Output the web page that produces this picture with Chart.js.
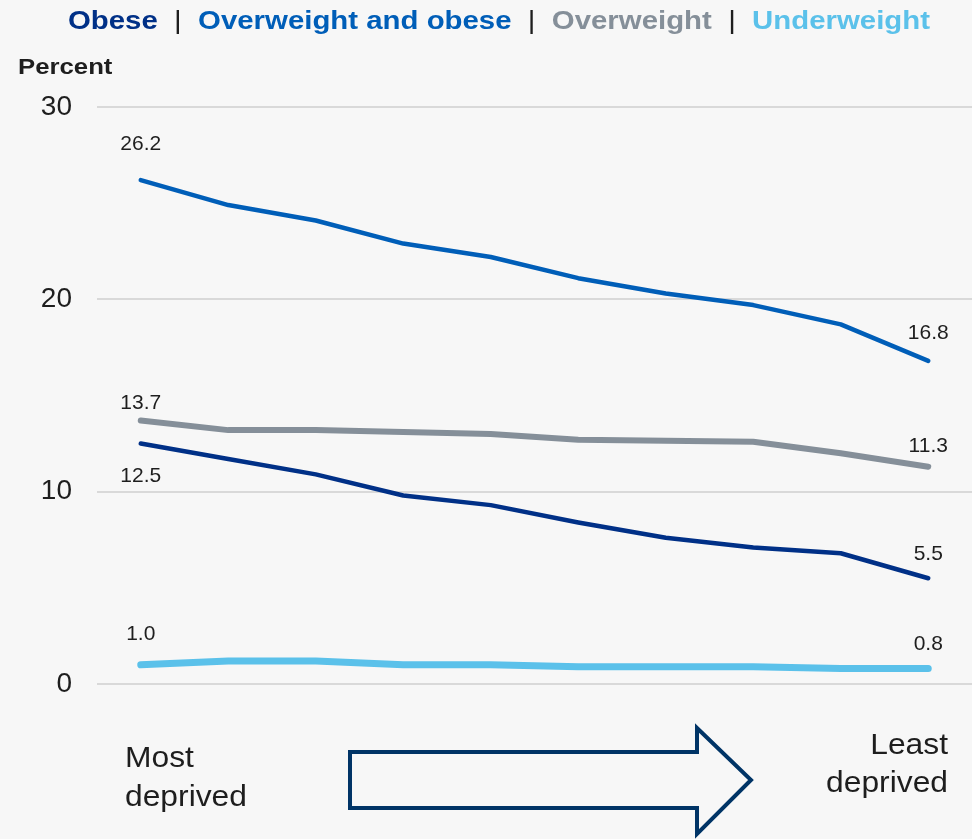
<!DOCTYPE html>
<html>
<head>
<meta charset="utf-8">
<script src="https://cdn.jsdelivr.net/npm/chart.js@4.4.1/dist/chart.umd.min.js"></script>
<style>
  html, body { margin: 0; padding: 0; background: #f7f7f7; }
  #wrap { width: 972px; height: 839px; position: relative; }
</style>
</head>
<body>
<div id="wrap"><canvas id="chart"></canvas></div>
<script>
// Deprivation deciles, most deprived (1) to least deprived (10)
const deciles = ['1', '2', '3', '4', '5', '6', '7', '8', '9', '10'];

const obese = [12.5, 11.7, 10.9, 9.8, 9.3, 8.4, 7.6, 7.1, 6.8, 5.5];
const overweightAndObese = [26.2, 24.9, 24.1, 22.9, 22.2, 21.1, 20.3, 19.7, 18.7, 16.8];
const overweight = [13.7, 13.2, 13.2, 13.1, 13.0, 12.7, 12.65, 12.6, 12.0, 11.3];
const underweight = [1.0, 1.2, 1.2, 1.0, 1.0, 0.9, 0.9, 0.9, 0.8, 0.8];

const yTicks = [0, 10, 20, 30];

const COLORS = {
  obese: '#003087',
  both: '#005eb8',
  over: '#858f99',
  under: '#5bc1ea',
  text: '#1e1e1e',
  arrow: '#003466'
};

const FONT = '"Liberation Sans", Arial, sans-serif';

// offset (px) of the end labels from their point: [first, last]
const labelOffsets = [
  [33, -24],    // obese: first label sits below the line
  [-36, -28],
  [-17, -20],
  [-31, -24]
];

// draw text squeezed/stretched horizontally (the source used a wide face)
function wideText(ctx, text, x, y, sx) {
  ctx.save();
  ctx.translate(x, y);
  ctx.scale(sx, 1);
  ctx.fillText(text, 0, 0);
  ctx.restore();
  return ctx.measureText(text).width * sx;
}

const endLabels = {
  id: 'endLabels',
  afterDatasetsDraw(chart) {
    const ctx = chart.ctx;
    ctx.save();
    ctx.font = '21px ' + FONT;
    ctx.fillStyle = COLORS.text;
    ctx.textAlign = 'center';
    ctx.textBaseline = 'middle';
    chart.data.datasets.forEach((ds, i) => {
      const meta = chart.getDatasetMeta(i);
      const first = meta.data[0];
      const last = meta.data[meta.data.length - 1];
      ctx.fillText(ds.data[0].toFixed(1), first.x, first.y + labelOffsets[i][0]);
      ctx.fillText(ds.data[ds.data.length - 1].toFixed(1), last.x, last.y + labelOffsets[i][1]);
    });
    ctx.restore();
  }
};

const decorations = {
  id: 'decorations',
  afterDraw(chart) {
    const ctx = chart.ctx;
    const area = chart.chartArea;
    ctx.save();

    // header legend
    const parts = [
      ['Obese', COLORS.obese, true],
      ['  |  ', COLORS.text, false],
      ['Overweight and obese', COLORS.both, true],
      ['  |  ', COLORS.text, false],
      ['Overweight', COLORS.over, true],
      ['  |  ', COLORS.text, false],
      ['Underweight', COLORS.under, true]
    ];
    const sx = 1.13;
    ctx.textBaseline = 'middle';
    ctx.textAlign = 'left';
    let total = 0;
    parts.forEach(p => {
      ctx.font = (p[2] ? 'bold ' : '') + '26px ' + FONT;
      total += ctx.measureText(p[0]).width * sx;
    });
    let x = 499 - total / 2;
    parts.forEach(p => {
      ctx.fillStyle = p[1];
      ctx.font = (p[2] ? 'bold ' : '') + '26px ' + FONT;
      x += wideText(ctx, p[0], x, 22, sx);
    });

    // axis unit
    ctx.font = 'bold 22px ' + FONT;
    ctx.fillStyle = COLORS.text;
    wideText(ctx, 'Percent', 18, 68, 1.17);

    // bottom annotation
    ctx.font = '30px ' + FONT;
    ctx.fillStyle = COLORS.text;
    ctx.textAlign = 'left';
    wideText(ctx, 'Most', 125, area.bottom + 75, 1.06);
    wideText(ctx, 'deprived', 125, area.bottom + 114, 1.06);
    ctx.textAlign = 'right';
    wideText(ctx, 'Least', 948, area.bottom + 62, 1.06);
    wideText(ctx, 'deprived', 948, area.bottom + 100, 1.06);

    const b = area.bottom;
    ctx.strokeStyle = COLORS.arrow;
    ctx.lineWidth = 4;
    ctx.lineJoin = 'miter';
    ctx.beginPath();
    ctx.moveTo(350, b + 68);
    ctx.lineTo(697, b + 68);
    ctx.lineTo(697, b + 44);
    ctx.lineTo(751, b + 96);
    ctx.lineTo(697, b + 150);
    ctx.lineTo(697, b + 124);
    ctx.lineTo(350, b + 124);
    ctx.closePath();
    ctx.stroke();

    ctx.restore();
  }
};

const line = (label, data, color, width) => ({
  label,
  data,
  borderColor: color,
  borderWidth: width,
  pointRadius: 0,
  tension: 0,
  borderCapStyle: 'round',
  borderJoinStyle: 'round'
});

new Chart(document.getElementById('chart'), {
  type: 'line',
  data: {
    labels: deciles,
    datasets: [
      line('Obese', obese, COLORS.obese, 4.5),
      line('Overweight and obese', overweightAndObese, COLORS.both, 4.5),
      line('Overweight', overweight, COLORS.over, 6),
      line('Underweight', underweight, COLORS.under, 7)
    ]
  },
  options: {
    responsive: true,
    maintainAspectRatio: false,
    animation: false,
    layout: { padding: { top: 107, bottom: 155, left: 0, right: 0 } },
    plugins: {
      legend: { display: false },
      tooltip: { enabled: false }
    },
    scales: {
      x: {
        offset: true,
        display: false
      },
      y: {
        min: 0,
        max: 30,
        afterFit: s => { s.width = 97; },
        afterBuildTicks: s => { s.ticks = yTicks.map(v => ({ value: v })); },
        border: { display: false },
        grid: { color: '#d9d9d9', lineWidth: 2, drawTicks: false },
        ticks: {
          color: COLORS.text,
          padding: 25,
          font: { family: FONT, size: 28 }
        }
      }
    }
  },
  plugins: [endLabels, decorations]
});
</script>
</body>
</html>
